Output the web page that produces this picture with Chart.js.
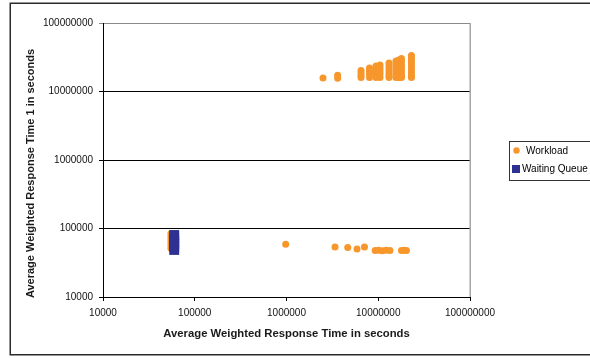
<!DOCTYPE html>
<html><head><meta charset="utf-8">
<script src="https://cdn.jsdelivr.net/npm/chart.js@4/dist/chart.umd.min.js"></script>
<style>html,body{margin:0;padding:0;background:#fff;overflow:hidden}#wrap{width:590px;height:358px;position:relative}canvas{display:block}</style>
</head><body><div id="wrap"><canvas id="c" width="590" height="358"></canvas></div>
<script>
const seriesNames = ['Workload', 'Waiting Queue'];
const seriesColors = ['#F7962B', '#2E3192'];
const xTicks = [10000, 100000, 1000000, 10000000, 100000000];
const yTicks = [10000, 100000, 1000000, 10000000, 100000000];
const tickLabels = ['10000', '100000', '1000000', '10000000', '100000000'];
const xTitle = 'Average Weighted Response Time in seconds';
const yTitle = 'Average Weighted Response Time 1 in seconds';

// Workload (x = response time, y = response time 1)
const workloadX = [
  55000, 55000, 55000, 55000, 55000, 55000,
  980000,
  3380000, 4650000, 5870000, 7080000,
  9260000, 10100000, 11100000, 12200000, 13400000,
  17900000, 19100000, 20300000,
  2500000, 3610000, 3610000,
  6490000, 6490000, 6490000, 6490000,
  8030000, 8030000, 8030000, 8030000,
  9450000, 9450000, 9450000, 9450000, 9450000,
  10450000, 10450000, 10450000, 10450000, 10450000,
  13100000, 13100000, 13100000, 13100000, 13100000, 13100000,
  15600000, 15600000, 15600000, 15600000, 15600000, 15600000, 15600000,
  16800000, 16800000, 16800000, 16800000, 16800000, 16800000, 16800000,
  17900000, 17900000, 17900000, 17900000, 17900000, 17900000, 17900000, 17900000,
  23000000, 23000000, 23000000, 23000000, 23000000, 23000000, 23000000, 23000000, 23000000
];
const workloadY = [
  84500, 76400, 69100, 62500, 56500, 51600,
  58800,
  53700, 52800, 50200, 53700,
  47700, 48000, 47500, 48000, 47700,
  47700, 48000, 47700,
  15700000, 17200000, 15600000,
  20300000, 18600000, 17100000, 16000000,
  22000000, 19900000, 18000000, 16000000,
  23600000, 21300000, 19300000, 17400000, 16000000,
  24400000, 22000000, 19900000, 18000000, 16000000,
  26100000, 23600000, 21300000, 19300000, 17400000, 16000000,
  27900000, 25200000, 22800000, 20600000, 18600000, 16800000, 16000000,
  28800000, 26100000, 23600000, 21300000, 19300000, 17400000, 16000000,
  30300000, 27900000, 25200000, 22800000, 20600000, 18600000, 16800000, 16000000,
  33500000, 30900000, 27900000, 25200000, 22800000, 20600000, 18600000, 16800000, 16000000
];

// Waiting Queue
const queueX = [59700, 59700, 59700, 59700, 59700, 59700];
const queueY = [80400, 72700, 65700, 59500, 53700, 48600];

const FONT = '"Liberation Sans", Arial, sans-serif';

const decorPlugin = {
  id: 'decor',
  beforeDraw(chart) {
    const ctx = chart.ctx;
    ctx.save();
    ctx.fillStyle = '#ffffff';
    ctx.fillRect(0, 0, chart.width, chart.height);
    ctx.strokeStyle = '#2b2b2b';
    ctx.lineWidth = 1.5;
    ctx.strokeRect(10.25, 3.25, 700, 351.5);
    ctx.restore();
  },
  afterDraw(chart) {
    const ctx = chart.ctx;
    const a = chart.chartArea;
    ctx.save();
    // right frame of plot area
    ctx.strokeStyle = '#a6a6a6';
    ctx.lineWidth = 1.5;
    ctx.beginPath();
    ctx.moveTo(a.right + 0.25, a.top);
    ctx.lineTo(a.right + 0.25, a.bottom);
    ctx.stroke();
    // axis titles
    ctx.fillStyle = '#1a1a1a';
    ctx.textAlign = 'center';
    ctx.textBaseline = 'middle';
    ctx.font = 'bold 11.3px ' + FONT;
    ctx.fillText(xTitle, (a.left + a.right) / 2, 334);
    ctx.font = 'bold 11px ' + FONT;
    ctx.save();
    ctx.translate(31, 173.5);
    ctx.rotate(-Math.PI / 2);
    ctx.fillText(yTitle, 0, 0);
    ctx.restore();
    // legend
    const ds = chart.data.datasets;
    ctx.strokeStyle = '#333';
    ctx.lineWidth = 1;
    ctx.strokeRect(509.5, 141.5, 120, 39);
    ctx.fillStyle = ds[0].backgroundColor;
    ctx.beginPath();
    ctx.arc(516.5, 150.5, 3.2, 0, Math.PI * 2);
    ctx.fill();
    ctx.fillStyle = ds[1].backgroundColor;
    ctx.fillRect(512, 165, 8, 8);
    ctx.fillStyle = '#000';
    ctx.font = '10px ' + FONT;
    ctx.textAlign = 'left';
    ctx.fillText(ds[0].label, 526, 151);
    ctx.fillText(ds[1].label, 522, 169);
    ctx.restore();
  }
};

const workloadData = workloadX.map((x, i) => ({ x: x, y: workloadY[i] }));
const queueData = queueX.map((x, i) => ({ x: x, y: queueY[i] }));

new Chart(document.getElementById('c'), {
  type: 'scatter',
  data: {
    datasets: [
      { label: seriesNames[0], data: workloadData, backgroundColor: seriesColors[0], borderColor: seriesColors[0],
        pointStyle: 'circle', pointRadius: 3.5, borderWidth: 0, order: 2 },
      { label: seriesNames[1], data: queueData, backgroundColor: seriesColors[1], borderColor: seriesColors[1],
        pointStyle: 'rect', pointRadius: 7, borderWidth: 0, order: 1 }
    ]
  },
  options: {
    responsive: false,
    devicePixelRatio: 1,
    animation: false,
    layout: { padding: { top: 23, right: 120, left: 0, bottom: 0 } },
    plugins: { legend: { display: false }, tooltip: { enabled: false } },
    scales: {
      x: {
        type: 'logarithmic', min: xTicks[0], max: xTicks[xTicks.length - 1],
        afterBuildTicks(scale) { scale.ticks = xTicks.map(v => ({ value: v })); },
        afterFit(scale) { scale.height = 61; },
        grid: { drawOnChartArea: false, drawTicks: true, tickLength: 4, color: '#000' },
        border: { color: '#000', width: 1 },
        ticks: { autoSkip: false, maxRotation: 0, padding: 6, color: '#111', font: { family: FONT, size: 10 },
          callback: (v) => tickLabels[xTicks.indexOf(v)] }
      },
      y: {
        type: 'logarithmic', min: yTicks[0], max: yTicks[yTicks.length - 1],
        afterBuildTicks(scale) { scale.ticks = yTicks.map(v => ({ value: v })); },
        afterFit(scale) { scale.width = 103; },
        grid: { drawTicks: true, tickLength: 4,
          color: (c) => (c.tick && c.tick.value === yTicks[yTicks.length - 1]) ? '#8a8a8a' : '#000' },
        border: { color: '#000', width: 1 },
        ticks: { autoSkip: false, padding: 6, color: '#111', font: { family: FONT, size: 10 },
          callback: (v) => tickLabels[yTicks.indexOf(v)] }
      }
    }
  },
  plugins: [decorPlugin]
});
</script></body></html>
